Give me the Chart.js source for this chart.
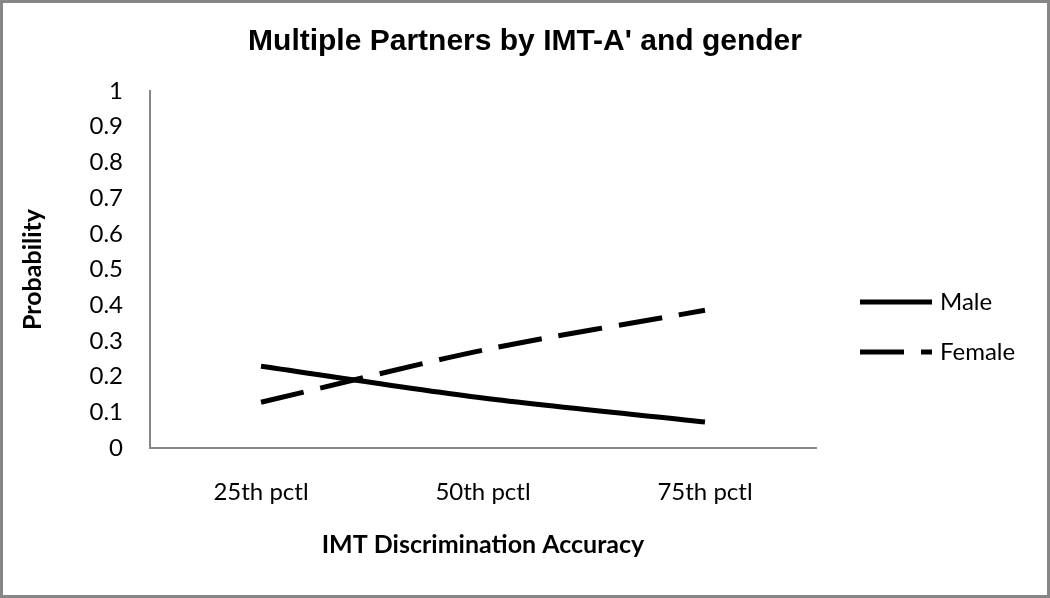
<!DOCTYPE html>
<html>
<head>
<meta charset="utf-8">
<script src="https://cdn.jsdelivr.net/npm/chart.js@4.4.1/dist/chart.umd.min.js"></script>
<style>
  html, body { margin: 0; padding: 0; background: #fff; }
  #wrap { width: 1050px; height: 598px; position: relative; }
</style>
</head>
<body>
<div id="wrap"><canvas id="js-chart-partners"></canvas></div>
<script>
const categories = ["25th pctl", "50th pctl", "75th pctl"];
const maleValues = [0.229, 0.14, 0.073];
const femaleValues = [0.128, 0.274, 0.386];
const yTickLabels = ["0", "0.1", "0.2", "0.3", "0.4", "0.5", "0.6", "0.7", "0.8", "0.9", "1"];

const chartTitle = "Multiple Partners by IMT-A' and gender";
const tickFont = { family: "Lato", size: 24 };
const axisTitleFont = { family: "Lato", size: 25, weight: "bold" };
const femaleDash = [44, 17];

Chart.defaults.color = "#000";
Chart.defaults.font.family = "Lato";

// title centred on the whole picture, frame, and hand-placed legend (Excel style)
const excelFrame = {
    id: "excelFrame",
    beforeDraw(chart) {
        const c = chart.ctx;
        c.save();
        c.fillStyle = "#fff";
        c.fillRect(0, 0, chart.width, chart.height);
        c.restore();
    },
    afterDraw(chart) {
        const c = chart.ctx;
        c.save();
        c.strokeStyle = "#868686";
        c.lineWidth = 3;
        c.strokeRect(1.5, 1.5, chart.width - 3, chart.height - 3);

        c.fillStyle = "#000";
        c.font = "bold 30px 'Liberation Sans'";
        c.textAlign = "center";
        c.textBaseline = "alphabetic";
        c.fillText(chartTitle, chart.width / 2, 50);

        const items = [
            { label: "Male", y: 302, dash: [] },
            { label: "Female", y: 352, dash: femaleDash }
        ];
        c.font = "24px Lato";
        c.textAlign = "left";
        c.textBaseline = "middle";
        items.forEach(function (it) {
            c.beginPath();
            c.lineWidth = 5;
            c.strokeStyle = "#000";
            c.lineCap = "butt";
            c.setLineDash(it.dash);
            c.moveTo(860, it.y);
            c.lineTo(932, it.y);
            c.stroke();
            c.setLineDash([]);
            c.fillText(it.label, 940, it.y);
        });
        c.restore();
    }
};

new Chart(document.getElementById("js-chart-partners"), {
    type: "line",
    data: {
        labels: categories,
        datasets: [
            {
                label: "Male",
                data: maleValues,
                borderColor: "#000",
                backgroundColor: "#000",
                borderWidth: 5,
                pointRadius: 0,
                tension: 0.3,
                fill: false
            },
            {
                label: "Female",
                data: femaleValues,
                borderColor: "#000",
                backgroundColor: "#000",
                borderWidth: 5,
                borderDash: femaleDash,
                pointRadius: 0,
                tension: 0.3,
                fill: false
            }
        ]
    },
    options: {
        responsive: true,
        maintainAspectRatio: false,
        animation: false,
        layout: { padding: { left: 14, right: 234, top: 91, bottom: 20 } },
        scales: {
            x: {
                offset: true,
                grid: { color: "transparent", drawTicks: false },
                border: { color: "#868686", width: 2 },
                ticks: { font: tickFont, padding: 30, maxRotation: 0 },
                title: {
                    display: true,
                    text: "IMT Discrimination Accuracy",
                    font: axisTitleFont,
                    padding: { top: 0, bottom: 18 }
                },
                afterFit: function (s) { s.height = 130; }
            },
            y: {
                min: 0,
                max: 1,
                grid: { color: "transparent", drawTicks: false },
                border: { color: "#868686", width: 2 },
                ticks: {
                    stepSize: 0.1,
                    font: tickFont,
                    padding: 27,
                    callback: function (v, i) { return yTickLabels[i]; }
                },
                title: {
                    display: true,
                    text: "Probability",
                    font: axisTitleFont,
                    padding: { top: 4, bottom: 0 }
                },
                afterFit: function (s) { s.width = 136; }
            }
        },
        plugins: {
            legend: { display: false },
            tooltip: { enabled: false },
            title: { display: false }
        }
    },
    plugins: [excelFrame]
});
</script>
</body>
</html>
